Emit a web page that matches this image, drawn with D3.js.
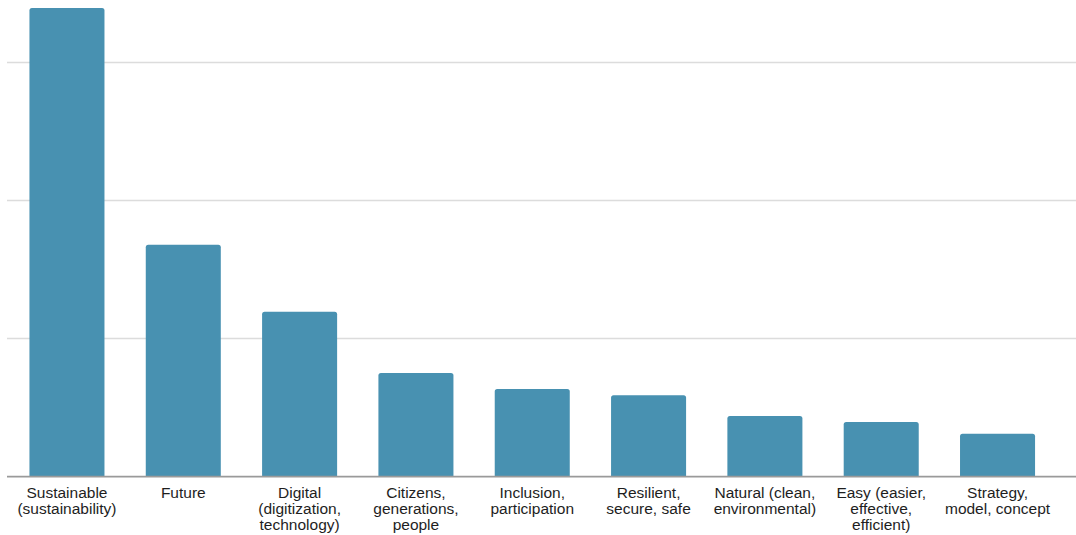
<!DOCTYPE html>
<html>
<head>
<meta charset="utf-8">
<script src="https://cdn.jsdelivr.net/npm/d3@7"></script>
<style>
  body { margin: 0; background: #fff; }
  .xlabel { font-family: "Liberation Sans", Arial, sans-serif; font-size: 15.5px; fill: #1e1e1e; }
</style>
</head>
<body>
<div id="chart"></div>
<script>
// Data
var categories = [
  "Sustainable (sustainability)",
  "Future",
  "Digital (digitization, technology)",
  "Citizens, generations, people",
  "Inclusion, participation",
  "Resilient, secure, safe",
  "Natural (clean, environmental)",
  "Easy (easier, effective, efficient)",
  "Strategy, model, concept"
];
var labelLines = [
  ["Sustainable", "(sustainability)"],
  ["Future"],
  ["Digital", "(digitization,", "technology)"],
  ["Citizens,", "generations,", "people"],
  ["Inclusion,", "participation"],
  ["Resilient,", "secure, safe"],
  ["Natural (clean,", "environmental)"],
  ["Easy (easier,", "effective,", "efficient)"],
  ["Strategy,", "model, concept"]
];
var counts = [67.9, 33.6, 23.9, 15, 12.7, 11.8, 8.8, 7.9, 6.2];
var gridTicks = [0, 20, 40, 60];

// Set Up Space
var svgWidth = 1076;
var svgHeight = 535;

var svg = d3.select("#chart")
  .append("svg")
  .attr("width", svgWidth)
  .attr("height", svgHeight);

// Scaling
var xScale = d3.scaleBand()
  .domain(categories)
  .range([8.8, 1055.7])
  .paddingInner(0.355)
  .paddingOuter(0.1775);

var yScale = d3.scaleLinear()
  .domain([0, 60])
  .range([476.6, 62.6]);

// Gridlines
svg.append("g")
  .selectAll("line")
  .data(gridTicks.slice(1))
  .enter()
  .append("line")
    .attr("x1", 7)
    .attr("x2", 1076)
    .attr("y1", d => yScale(d))
    .attr("y2", d => yScale(d))
    .attr("stroke", "#dcdcdc")
    .attr("stroke-width", 1.5);

// Bars with slightly rounded tops
var r = 2.5;
svg.append("g")
  .selectAll("path")
  .data(counts)
  .enter()
  .append("path")
    .attr("d", function(d, i) {
      var x0 = xScale(categories[i]);
      var x1 = x0 + xScale.bandwidth();
      var y0 = yScale(0);
      var y1 = yScale(d);
      return `M${x0},${y0} L${x0},${y1 + r} Q${x0},${y1} ${x0 + r},${y1} ` +
             `L${x1 - r},${y1} Q${x1},${y1} ${x1},${y1 + r} L${x1},${y0} Z`;
    })
    .attr("fill", "#4891b1");

// Baseline
svg.append("line")
  .attr("x1", 7)
  .attr("x2", 1076)
  .attr("y1", yScale(0))
  .attr("y2", yScale(0))
  .attr("stroke", "#9a9a9a")
  .attr("stroke-width", 1.8);

// Category labels
var labels = svg.append("g")
  .selectAll("text")
  .data(categories)
  .enter()
  .append("text")
    .attr("class", "xlabel")
    .attr("text-anchor", "middle")
    .attr("x", d => xScale(d) + xScale.bandwidth() / 2)
    .attr("y", 498);

labels.each(function(d, i) {
  var t = d3.select(this);
  labelLines[i].forEach(function(line, j) {
    t.append("tspan")
      .attr("x", xScale(d) + xScale.bandwidth() / 2)
      .attr("dy", j === 0 ? 0 : 15.8)
      .text(line);
  });
});
</script>
</body>
</html>
